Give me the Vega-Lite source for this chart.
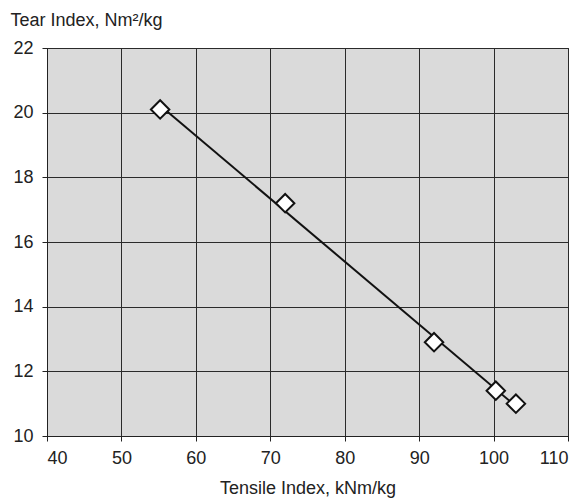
{
  "$schema": "https://vega.github.io/schema/vega-lite/v6.json",
  "width": 521,
  "height": 388,
  "autosize": {"type": "none"},
  "padding": {"left": 47, "top": 48, "right": 17, "bottom": 63},
  "background": "white",
  "config": {
    "view": {"fill": "#dadada", "stroke": "#222222", "strokeWidth": 1},
    "font": "Liberation Sans"
  },
  "data": {
    "values": [
      {"tensile": 55.2, "tear": 20.1},
      {"tensile": 72.0, "tear": 17.2},
      {"tensile": 92.0, "tear": 12.9},
      {"tensile": 100.3, "tear": 11.4},
      {"tensile": 103.0, "tear": 11.0}
    ]
  },
  "encoding": {
    "x": {
      "field": "tensile", "type": "quantitative",
      "scale": {"domain": [40, 110], "nice": false, "zero": false},
      "axis": {
        "values": [40, 50, 60, 70, 80, 90, 100, 110],
        "title": "Tensile Index, kNm/kg",
        "titleFont": "Liberation Sans", "titleFontSize": 18, "titleFontWeight": "normal", "titleColor": "#222222",
        "titleBaseline": "alphabetic", "titleY": 57,
        "labelFont": "Liberation Sans", "labelFontSize": 18, "labelColor": "#222222", "labelPadding": 8,
        "grid": true, "gridColor": "#2a2a2a", "gridWidth": 1, "gridOpacity": 1,
        "domainColor": "#222222", "tickColor": "#222222", "tickSize": 5
      }
    },
    "y": {
      "field": "tear", "type": "quantitative",
      "scale": {"domain": [10, 22], "nice": false, "zero": false},
      "axis": {
        "values": [10, 12, 14, 16, 18, 20, 22],
        "title": "Tear Index, Nm²/kg",
        "titleFont": "Liberation Sans", "titleFontSize": 18, "titleFontWeight": "normal", "titleColor": "#222222",
        "titleAngle": 0, "titleAlign": "left", "titleBaseline": "alphabetic",
        "titleX": -37, "titleY": -23,
        "labelFont": "Liberation Sans", "labelFontSize": 18, "labelColor": "#222222", "labelPadding": 9,
        "grid": true, "gridColor": "#2a2a2a", "gridWidth": 1, "gridOpacity": 1,
        "domainColor": "#222222", "tickColor": "#222222", "tickSize": 5
      }
    }
  },
  "layer": [
    {
      "transform": [{"regression": "tear", "on": "tensile"}],
      "mark": {"type": "line", "color": "#111111", "strokeWidth": 2}
    },
    {"mark": {"type": "point", "shape": "diamond", "size": 340, "filled": true, "fill": "white", "stroke": "#111111", "strokeWidth": 2, "opacity": 1}}
  ]
}
